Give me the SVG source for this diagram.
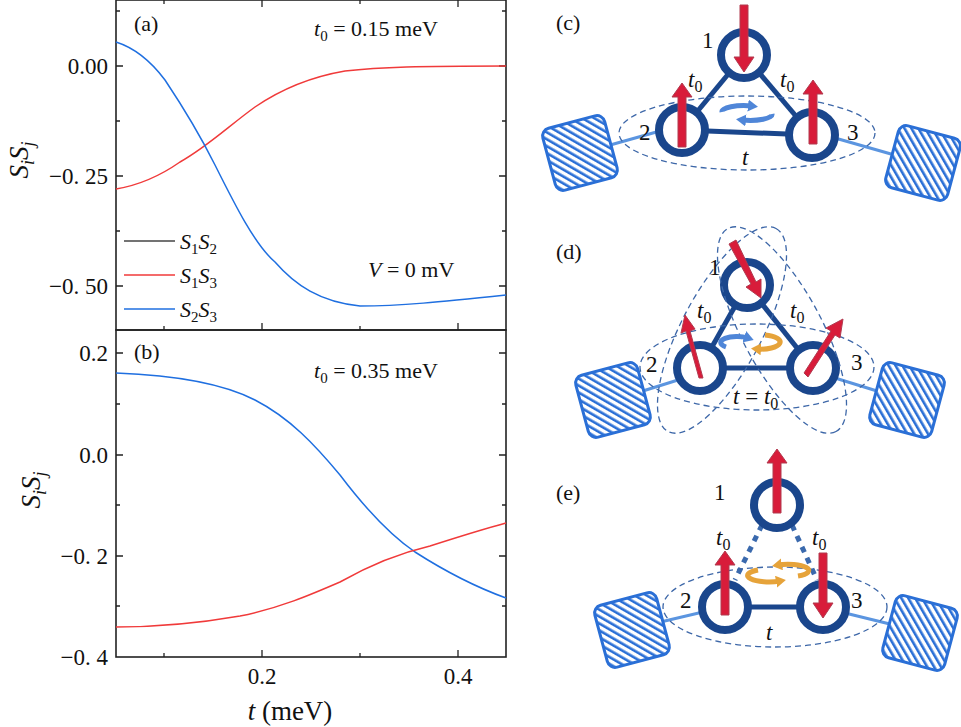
<svg xmlns="http://www.w3.org/2000/svg" width="961" height="727" viewBox="0 0 961 727">
<defs>
<style>
text{font-family:"Liberation Serif","DejaVu Serif",serif;fill:#111}
.tk{font-size:23px}
.lab{font-size:22px}
.ax{fill:none;stroke:#222;stroke-width:1.6}
.tick{stroke:#222;stroke-width:1.3}
.red{fill:none;stroke:#f03a3a;stroke-width:1.5}
.blue{fill:none;stroke:#1f6fe0;stroke-width:1.5}
.ring{fill:#fff;stroke:#1a468c;stroke-width:8}
.edge{stroke:#1a468c;stroke-width:5}
.dedge{stroke:#3a69ad;stroke-width:5;stroke-dasharray:6 6}
.ell{fill:none;stroke:#3d67a8;stroke-width:1.3;stroke-dasharray:6 4}
.lead{stroke:#5b95e0;stroke-width:3}
.box{fill:url(#hatch);stroke:#2a6fd6;stroke-width:3}
.num{font-size:23px}
.sp{fill:#d81c3a;stroke:#b13a4f;stroke-width:1}
</style>
<pattern id="hatch" width="6" height="6" patternUnits="userSpaceOnUse" patternTransform="rotate(-45)">
<rect width="6" height="6" fill="#fff"/><rect width="2.6" height="6" fill="#2a6fd6"/>
</pattern>
<marker id="ab" markerUnits="userSpaceOnUse" markerWidth="12" markerHeight="12" refX="4" refY="6" orient="auto"><path d="M0,0 L10,6 L0,12z" fill="#4f86d8"/></marker>
<marker id="ao" markerUnits="userSpaceOnUse" markerWidth="12" markerHeight="12" refX="4" refY="6" orient="auto"><path d="M0,0 L10,6 L0,12z" fill="#e6a33a"/></marker>
</defs>

<g id="plot-a">
<rect class="ax" x="116" y="0" width="390" height="330"/>
<path class="tick" d="M116,66h7M116,176h7M116,286h7M116,11h4M116,121h4M116,231h4M506,66h-7M506,176h-7M506,286h-7M506,11h-4M506,121h-4M506,231h-4M262,330v-7M458,330v-7M164,330v-4M360,330v-4M262,0v7M458,0v7M164,0v4M360,0v4"/>
<text class="tk" x="108" y="74" text-anchor="end">0.00</text>
<text class="tk" x="108" y="184" text-anchor="end">−0. 25</text>
<text class="tk" x="108" y="294" text-anchor="end">−0. 50</text>
<path class="red" d="M116,189 C140,185 160,176 180,162 C207,147 230,125 255,107 C280,90 310,77 345,71 C380,67 420,66 506,66"/>
<path class="blue" d="M116,42 C135,48 150,60 165,80 C185,110 200,135 215,165 C235,205 255,245 275,262 C295,285 320,302 360,306 C400,306 440,302 506,295"/>
<text class="lab" x="134" y="31">(a)</text>
<text class="lab" x="314" y="36"><tspan font-style="italic">t</tspan><tspan font-size="15" dy="5">0</tspan><tspan dy="-5"> = 0.15 meV</tspan></text>
<text class="lab" x="368" y="277"><tspan font-style="italic">V</tspan> = 0 mV</text>
<line x1="124" y1="241" x2="175" y2="241" stroke="#444" stroke-width="1.5"/>
<line class="red" x1="124" y1="275" x2="175" y2="275"/>
<line class="blue" x1="124" y1="309" x2="175" y2="309"/>
<text class="lab" x="180" y="249" font-style="italic">S<tspan font-size="15" dy="5" font-style="normal">1</tspan><tspan dy="-5">S</tspan><tspan font-size="15" dy="5" font-style="normal">2</tspan></text>
<text class="lab" x="180" y="283" font-style="italic">S<tspan font-size="15" dy="5" font-style="normal">1</tspan><tspan dy="-5">S</tspan><tspan font-size="15" dy="5" font-style="normal">3</tspan></text>
<text class="lab" x="180" y="317" font-style="italic">S<tspan font-size="15" dy="5" font-style="normal">2</tspan><tspan dy="-5">S</tspan><tspan font-size="15" dy="5" font-style="normal">3</tspan></text>
<text font-size="27" transform="translate(28,160) rotate(-90)" text-anchor="middle" font-style="italic">S<tspan font-size="18" dy="6">i</tspan><tspan dy="-6">S</tspan><tspan font-size="18" dy="6">j</tspan></text>
</g>

<g id="plot-b">
<rect class="ax" x="116" y="330" width="390" height="327"/>
<path class="tick" d="M116,353h7M116,455h7M116,556h7M116,404h4M116,505h4M116,606h4M506,353h-7M506,455h-7M506,556h-7M506,404h-4M506,505h-4M506,606h-4M262,657v-7M458,657v-7M164,657v-4M360,657v-4"/>
<text class="tk" x="108" y="361" text-anchor="end">0.2</text>
<text class="tk" x="108" y="463" text-anchor="end">0.0</text>
<text class="tk" x="108" y="564" text-anchor="end">−0. 2</text>
<text class="tk" x="108" y="665" text-anchor="end">−0. 4</text>
<text class="tk" x="262" y="684" text-anchor="middle">0.2</text>
<text class="tk" x="458" y="684" text-anchor="middle">0.4</text>
<path class="blue" d="M116,373 C170,375 220,382 255,400 C290,418 315,445 340,475 C365,508 390,535 415,552 C440,568 470,585 506,598"/>
<path class="red" d="M116,627 C160,627 200,623 240,616 C280,608 310,595 340,582 C370,565 400,553 430,546 C455,538 480,530 506,523"/>
<text class="lab" x="134" y="359">(b)</text>
<text class="lab" x="314" y="378"><tspan font-style="italic">t</tspan><tspan font-size="15" dy="5">0</tspan><tspan dy="-5"> = 0.35 meV</tspan></text>
<text font-size="27" transform="translate(40,490) rotate(-90)" text-anchor="middle" font-style="italic">S<tspan font-size="18" dy="6">i</tspan><tspan dy="-6">S</tspan><tspan font-size="18" dy="6">j</tspan></text>
<text x="290" y="720" font-size="27" text-anchor="middle"><tspan font-style="italic">t</tspan> (meV)</text>
</g>

<g id="panel-c">
<text class="lab" x="556" y="30">(c)</text>
<line class="lead" x1="596" y1="149" x2="660" y2="131"/><line class="lead" x1="835" y1="138" x2="905" y2="158"/>
<rect class="box" x="-32" y="-32" width="64" height="64" rx="8" transform="translate(580,153) rotate(-15)"/>
<rect class="box" x="-32" y="-32" width="64" height="64" rx="8" transform="translate(923,163) rotate(15)"/>
<line class="edge" x1="744" y1="55" x2="682" y2="130"/><line class="edge" x1="744" y1="55" x2="812" y2="135"/><line class="edge" x1="682" y1="130" x2="812" y2="135"/>
<circle class="ring" cx="744" cy="55" r="23"/><circle class="ring" cx="682" cy="130" r="23"/><circle class="ring" cx="812" cy="135" r="23"/>
<ellipse class="ell" cx="747" cy="133" rx="128" ry="37"/>
<path class="sp" d="M740,5h8v52h6l-10,15l-10,-15h6z"/>
<path class="sp" d="M678,147v-50h-6l10,-14l10,14h-6v50z"/>
<path class="sp" d="M809,144v-50h-6l10,-14l10,14h-6v50z"/>
<path d="M722,112 A22,6 0 0 1 752,106" fill="none" stroke="#4f86d8" stroke-width="5" marker-end="url(#ab)"/>
<path d="M772,114 A22,6 0 0 1 742,120" fill="none" stroke="#4f86d8" stroke-width="5" marker-end="url(#ab)"/>
<text class="num" x="702" y="48">1</text><text class="num" x="639" y="140">2</text><text class="num" x="847" y="140">3</text>
<text class="num" x="688" y="87" font-style="italic">t<tspan font-size="16" font-style="normal" dy="5">0</tspan></text>
<text class="num" x="780" y="87" font-style="italic">t<tspan font-size="16" font-style="normal" dy="5">0</tspan></text>
<text class="num" x="742" y="165" font-style="italic">t</text>
</g>

<g id="panel-d">
<text class="lab" x="556" y="259">(d)</text>
<line class="lead" x1="630" y1="395" x2="678" y2="380"/><line class="lead" x1="835" y1="378" x2="890" y2="395"/>
<rect class="box" x="-32" y="-32" width="64" height="64" rx="8" transform="translate(613,400) rotate(-15)"/>
<rect class="box" x="-32" y="-32" width="64" height="64" rx="8" transform="translate(907,400) rotate(15)"/>
<line class="edge" x1="747" y1="285" x2="700" y2="368"/><line class="edge" x1="747" y1="285" x2="813" y2="368"/><line class="edge" x1="700" y1="368" x2="813" y2="368"/>
<circle class="ring" cx="747" cy="285" r="23"/><circle class="ring" cx="700" cy="368" r="23"/><circle class="ring" cx="813" cy="368" r="23"/>
<ellipse class="ell" cx="757" cy="367" rx="117" ry="43"/>
<ellipse class="ell" cx="722" cy="330" rx="115" ry="40" transform="rotate(-62 722 330)"/>
<ellipse class="ell" cx="782" cy="330" rx="115" ry="40" transform="rotate(62 782 330)"/>
<path class="sp" d="M729,244l7,-4l20,42l5,-3l0,19l-15,-11l5,-3z"/>
<path class="sp" d="M699,378l-13,-47l-5,2l4,-18l10,14l-5,2l13,47z"/>
<path class="sp" d="M804,373l27,-42l-5,-3l17,-9l-3,19l-5,-3l-27,42z"/>
<path d="M726,347 A16,6 0 0 1 748,338" fill="none" stroke="#4f86d8" stroke-width="5" marker-end="url(#ab)"/>
<path d="M765,335 A16,6 0 0 1 757,349" fill="none" stroke="#e6a33a" stroke-width="5" marker-end="url(#ao)"/>
<text class="num" x="709" y="275">1</text><text class="num" x="646" y="372">2</text><text class="num" x="851" y="370">3</text>
<text class="num" x="697" y="318" font-style="italic">t<tspan font-size="16" font-style="normal" dy="5">0</tspan></text>
<text class="num" x="790" y="318" font-style="italic">t<tspan font-size="16" font-style="normal" dy="5">0</tspan></text>
<text class="num" x="733" y="404" font-style="italic">t<tspan font-style="normal"> = </tspan>t<tspan font-size="16" font-style="normal" dy="5">0</tspan></text>
</g>

<g id="panel-e">
<text class="lab" x="556" y="500">(e)</text>
<line class="lead" x1="652" y1="624" x2="703" y2="612"/><line class="lead" x1="845" y1="613" x2="898" y2="626"/>
<rect class="box" x="-32" y="-32" width="64" height="64" rx="8" transform="translate(632,630) rotate(-15)"/>
<rect class="box" x="-32" y="-32" width="64" height="64" rx="8" transform="translate(920,633) rotate(15)"/>
<line class="dedge" x1="762" y1="525" x2="735" y2="580"/><line class="dedge" x1="792" y1="525" x2="817" y2="580"/>
<line class="edge" x1="725" y1="607" x2="823" y2="607"/>
<circle class="ring" cx="777" cy="505" r="23"/><circle class="ring" cx="725" cy="607" r="23"/><circle class="ring" cx="823" cy="607" r="23"/>
<ellipse class="ell" cx="775" cy="607" rx="112" ry="40"/>
<path class="sp" d="M773,513v-50h-6l10,-14l10,14h-6v50z"/>
<path class="sp" d="M721,615v-50h-6l10,-14l10,14h-6v50z"/>
<path class="sp" d="M819,553h8v50h6l-10,15l-10,-15h6z"/>
<path d="M758,570 A20,6 0 0 0 780,581" fill="none" stroke="#e6a33a" stroke-width="5" marker-end="url(#ao)"/>
<path d="M798,576 A20,6 0 0 0 778,565" fill="none" stroke="#e6a33a" stroke-width="5" marker-end="url(#ao)"/>
<text class="num" x="714" y="500">1</text><text class="num" x="680" y="608">2</text><text class="num" x="851" y="608">3</text>
<text class="num" x="716" y="545" font-style="italic">t<tspan font-size="16" font-style="normal" dy="5">0</tspan></text>
<text class="num" x="812" y="545" font-style="italic">t<tspan font-size="16" font-style="normal" dy="5">0</tspan></text>
<text class="num" x="766" y="640" font-style="italic">t</text>
</g>
</svg>
